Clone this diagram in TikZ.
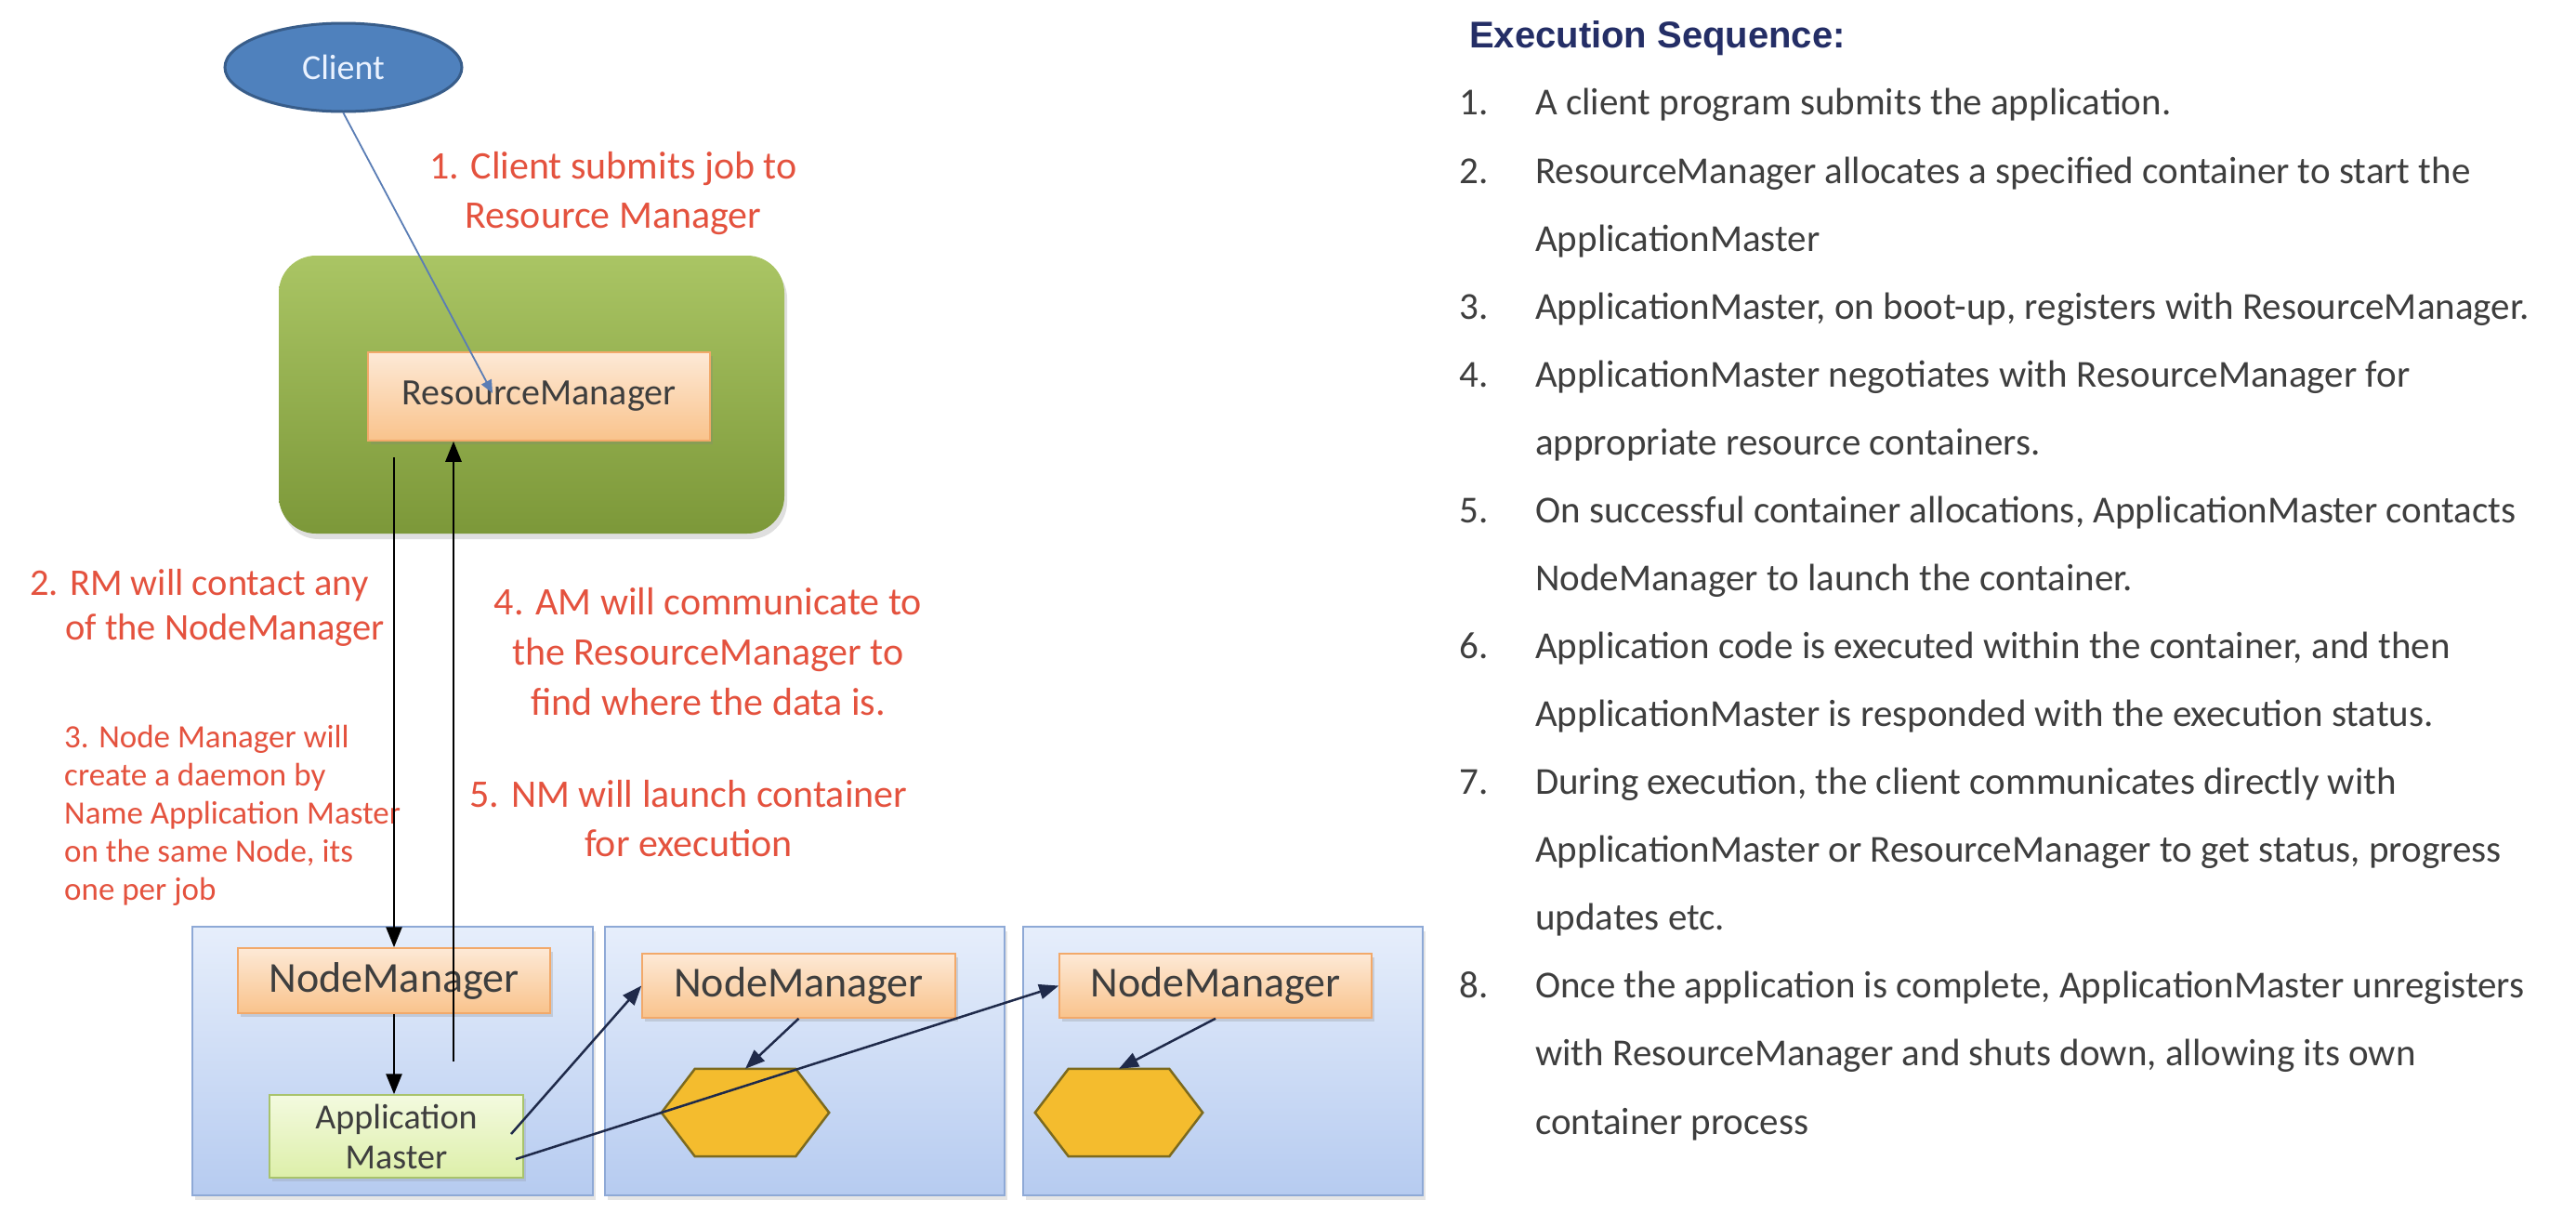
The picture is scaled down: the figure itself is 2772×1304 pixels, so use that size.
\documentclass[tikz,border=0pt]{standalone}
\usepackage{fontspec}
\setmainfont{Carlito}
\newfontfamily\titlefont{Liberation Sans}
\usetikzlibrary{arrows.meta,shadows,shapes.geometric}

\definecolor{lblred}{RGB}{228,82,62}
\definecolor{navyline}{RGB}{31,42,74}
\definecolor{txtgray}{RGB}{62,62,62}
\definecolor{titleblue}{RGB}{36,46,102}
\definecolor{greentop}{RGB}{170,197,100}
\definecolor{greenbot}{RGB}{124,152,57}
\definecolor{bluetop}{RGB}{230,238,251}
\definecolor{bluebot}{RGB}{182,203,240}
\definecolor{blueedge}{RGB}{142,169,214}
\definecolor{orangetop}{RGB}{253,233,214}
\definecolor{orangebot}{RGB}{249,195,140}
\definecolor{orangeedge}{RGB}{242,169,106}
\definecolor{amtop}{RGB}{243,250,223}
\definecolor{ambot}{RGB}{221,239,169}
\definecolor{amedge}{RGB}{168,195,108}
\definecolor{hexfill}{RGB}{244,188,46}
\definecolor{hexedge}{RGB}{124,106,30}
\definecolor{clientfill}{RGB}{79,129,189}
\definecolor{clientedge}{RGB}{56,93,138}
\definecolor{clientline}{RGB}{90,125,181}
\definecolor{clienttext}{RGB}{234,242,255}

\tikzset{
  fsz/.style n args={2}{font=\fontsize{#1}{#2}\selectfont},
  greenbox/.style={draw=none, rounded corners=40pt, top color=greentop, bottom color=greenbot,
    inner sep=0pt, drop shadow={shadow xshift=3pt, shadow yshift=-6pt, opacity=0.25}},
  orangebox/.style={draw=orangeedge, line width=1.5pt, top color=orangetop, bottom color=orangebot,
    inner sep=0pt, text=txtgray, drop shadow={shadow xshift=3pt, shadow yshift=-4pt, opacity=0.25}},
  bluebox/.style={draw=blueedge, line width=2pt, top color=bluetop, bottom color=bluebot,
    inner sep=0pt, drop shadow={shadow xshift=3pt, shadow yshift=-5pt, opacity=0.2}},
  ambox/.style={draw=amedge, line width=1.5pt, top color=amtop, bottom color=ambot,
    inner sep=0pt, text=txtgray, align=center, drop shadow={shadow xshift=3pt, shadow yshift=-4pt, opacity=0.2}},
  clientnode/.style={ellipse, draw=clientedge, line width=3pt, fill=clientfill, text=clienttext,
    minimum width=255pt, minimum height=95pt, inner sep=0pt},
  hexshape/.style={fill=hexfill, draw=hexedge, line width=2.5pt, line join=miter},
  hexslot/.style={minimum width=180pt, minimum height=94pt, inner sep=0pt},
  redlabel/.style={text=lblred, inner sep=0pt},
  blackarrow/.style={-{Triangle[length=22pt,width=17pt]}, line width=2.8pt, black},
  navyarrow/.style={-{Triangle[length=21pt,width=16pt]}, line width=2.5pt, navyline},
  clientarrow/.style={-{Triangle[length=14pt,width=12pt]}, line width=1.8pt, clientline},
}

\begin{document}
\begin{tikzpicture}[x=1pt,y=-1pt]
\fill[white] (0,0) rectangle (2772,1304);
\useasboundingbox (0,0) rectangle (2772,1304);

% ---------- top part ----------
\node[greenbox, minimum width=544pt, minimum height=299pt] (rmzone) at (572,424.5) {};
\node[orangebox, minimum width=368pt, minimum height=95pt, fsz={40}{48}] (rm) at (580,426.5) {ResourceManager};
\node[clientnode, fsz={38}{44}] (client) at (369.5,72.5) {Client};

% ---------- labels ----------
\node[redlabel, fsz={42}{53}, align=center] (lbl1) at (660,208) {1. Client submits job to\\Resource Manager};
\node[redlabel, fsz={40.5}{48}, align=left, anchor=west] (lbl2) at (32,654) {2. RM will contact any\\\hspace*{38pt}of the NodeManager};
\node[redlabel, fsz={35}{41}, align=left, anchor=west] (lbl3) at (69,877) {3. Node Manager will\\create a daemon by\\Name Application Master\\on the same Node, its\\one per job};
\node[redlabel, fsz={42}{54}, align=center] (lbl4) at (762,701) {4. AM will communicate to\\the ResourceManager to\\find where the data is.};
\node[redlabel, fsz={42}{53}, align=center] (lbl5) at (741,881) {5. NM will launch container\\for execution};

% ---------- node boxes ----------
\node[bluebox, minimum width=431pt, minimum height=289pt] (node1) at (422.5,1141.5) {};
\node[bluebox, minimum width=430pt, minimum height=289pt] (node2) at (866,1141.5) {};
\node[bluebox, minimum width=430pt, minimum height=289pt] (node3) at (1316,1141.5) {};

\node[orangebox, minimum width=336pt, minimum height=70pt, fsz={46}{54}] (nm1) at (424,1055) {NodeManager};
\node[orangebox, minimum width=337pt, minimum height=69pt, fsz={46}{54}] (nm2) at (859.5,1060.5) {NodeManager};
\node[orangebox, minimum width=336pt, minimum height=69pt, fsz={46}{54}] (nm3) at (1308,1060.5) {NodeManager};

\node[ambox, minimum width=273pt, minimum height=89pt, fsz={38}{43}] (am) at (426.5,1222.5) {Application\\Master};

\node[hexslot] (hex1) at (802,1197) {};
\node[hexslot] (hex2) at (1204,1197) {};
\foreach \h in {hex1,hex2}{
  \filldraw[hexshape] (\h.west) -- ([xshift=36pt]\h.north west) -- ([xshift=-36pt]\h.north east)
    -- (\h.east) -- ([xshift=-36pt]\h.south east) -- ([xshift=36pt]\h.south west) -- cycle;
}

% ---------- connectors ----------
\coordinate (rmtip) at (530,423);
\coordinate (rmdown) at (424,492);
\coordinate (amup) at (488,1142);
\coordinate (amout1) at (550,1220);
\coordinate (amout2) at (555,1247);

\draw[clientarrow] (client.south) -- (rmtip);
\draw[blackarrow] (rmdown) -- (rmdown |- nm1.north);
\draw[blackarrow] (nm1.south) -- (nm1.south |- am.north);
\draw[blackarrow] (amup) -- (amup |- rm.south);
\draw[navyarrow] (amout1) -- (nm2.west);
\draw[navyarrow] (amout2) -- (nm3.west);
\draw[navyarrow] (nm2.south) -- (hex1.north);
\draw[navyarrow] (nm3.south) -- (hex2.north);

% ---------- execution sequence ----------
\node[anchor=base west, inner sep=0pt, text=titleblue, font=\titlefont\bfseries\fontsize{40}{48}\selectfont] (title) at (1581,51.5) {Execution Sequence:};
\node[anchor=north west, inner sep=0pt, text=txtgray, fsz={41}{73.07}] (list) at (1570,72.6) {%
\begin{tabular}{@{}p{82pt}@{}l@{}}
1. & A client program submits the application.\\
2. & ResourceManager allocates a specified container to start the\\
   & ApplicationMaster\\
3. & ApplicationMaster, on boot-up, registers with ResourceManager.\\
4. & ApplicationMaster negotiates with ResourceManager for\\
   & appropriate resource containers.\\
5. & On successful container allocations, ApplicationMaster contacts\\
   & NodeManager to launch the container.\\
6. & Application code is executed within the container, and then\\
   & ApplicationMaster is responded with the execution status.\\
7. & During execution, the client communicates directly with\\
   & ApplicationMaster or ResourceManager to get status, progress\\
   & updates etc.\\
8. & Once the application is complete, ApplicationMaster unregisters\\
   & with ResourceManager and shuts down, allowing its own\\
   & container process
\end{tabular}};
\end{tikzpicture}
\end{document}
